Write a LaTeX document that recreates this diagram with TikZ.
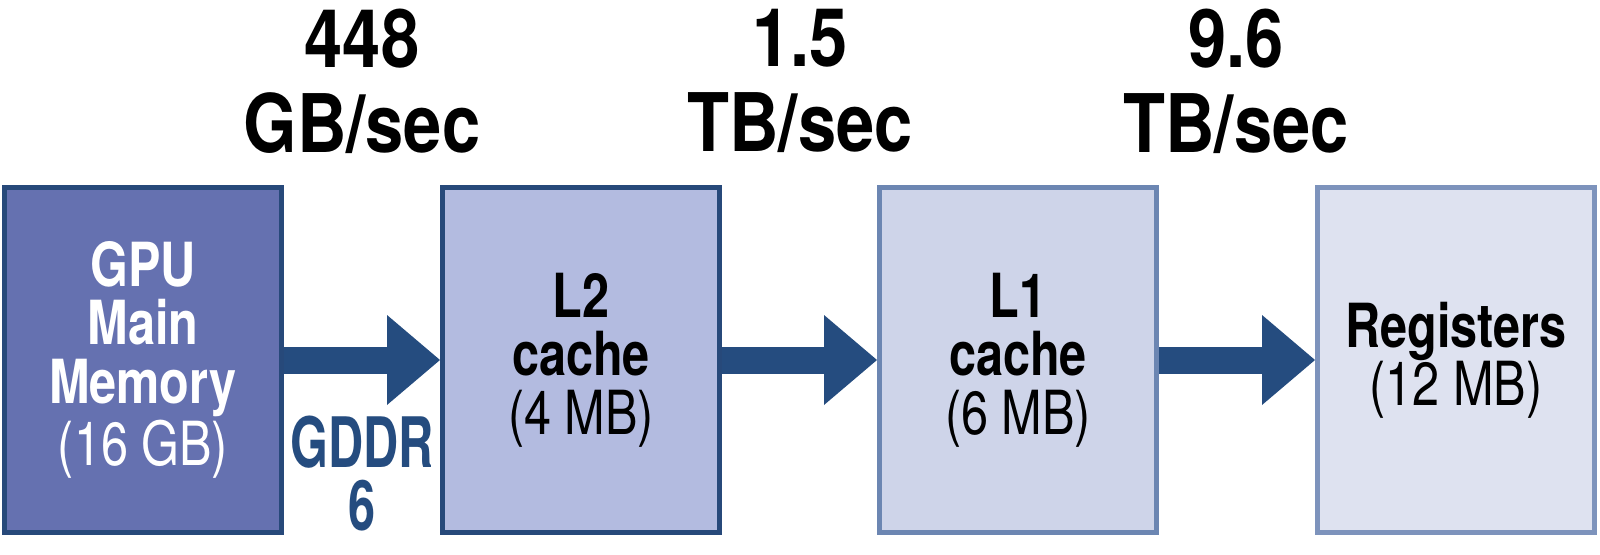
\documentclass[tikz,border=0pt]{standalone}
\usepackage{fontspec}
\setmainfont{TeX Gyre Heros}[FakeStretch=0.85]
\newfontfamily\boxfont{TeX Gyre Heros}[FakeStretch=0.8]
\newfontfamily\busfont{TeX Gyre Heros}[FakeStretch=0.7]
\usetikzlibrary{arrows.meta}
\definecolor{memfill}{HTML}{6571B0}
\definecolor{ltwofill}{HTML}{B3BBE0}
\definecolor{lonefill}{HTML}{CED4E9}
\definecolor{regfill}{HTML}{DEE2F0}
\definecolor{darkedge}{HTML}{27497A}
\definecolor{lightedge}{HTML}{6C86B2}
\definecolor{paleedge}{HTML}{7D93BC}
\definecolor{arrowblue}{HTML}{254C7F}
\tikzstyle{node:box}=[rectangle,draw,line width=0.05cm,minimum width=2.77cm,minimum height=3.45cm,align=center,inner sep=0pt,font=\boxfont\fontsize{17.3}{16.6}\selectfont\bfseries]
\tikzstyle{node:mem}=[node:box,draw=darkedge,fill=memfill,text=white]
\tikzstyle{node:ltwo}=[node:box,draw=darkedge,fill=ltwofill]
\tikzstyle{node:lone}=[node:box,draw=lightedge,fill=lonefill]
\tikzstyle{node:reg}=[node:box,draw=paleedge,fill=regfill]
\tikzstyle{node:rate}=[align=center,inner sep=0pt,anchor=north,font=\fontsize{23}{24.3}\selectfont\bfseries]
\tikzstyle{node:bus}=[align=center,inner sep=0pt,anchor=north,text=arrowblue,font=\busfont\fontsize{19.8}{18}\selectfont\bfseries]
\tikzstyle{draw:link}=[arrowblue,line width=0.27cm,-{Triangle[length=0.53cm,width=0.9cm,line width=0pt]}]

\begin{document}
\begin{tikzpicture}[x=1cm,y=1cm]
        \useasboundingbox (0,0) rectangle (16,5.54);

        % Memory levels
        \node[node:mem] (mem) at (1.43,1.94) {GPU\\Main\\Memory\\\mdseries(16 GB)};
        \node[node:ltwo] (ltwo) at (5.81,1.94) {L2\\cache\\\mdseries(4 MB)};
        \node[node:lone] (lone) at (10.18,1.94) {L1\\cache\\\mdseries(6 MB)};
        \node[node:reg] (reg) at (14.56,1.94) {Registers\\\mdseries(12 MB)};

        % Links between levels
        \draw[draw:link] (mem) -- (ltwo);
        \draw[draw:link] (ltwo) -- (lone);
        \draw[draw:link] (lone) -- (reg);

        % Bandwidths
        \node[node:rate] (rone) at (3.62,5.46) {448\\GB/sec};
        \node[node:rate] (rtwo) at (8.0,5.46) {1.5\\TB/sec};
        \node[node:rate] (rthree) at (12.36,5.46) {9.6\\TB/sec};

        % Bus label
        \node[node:bus] (bus) at (3.62,1.39) {GDDR\\6};

    \end{tikzpicture}
\end{document}
